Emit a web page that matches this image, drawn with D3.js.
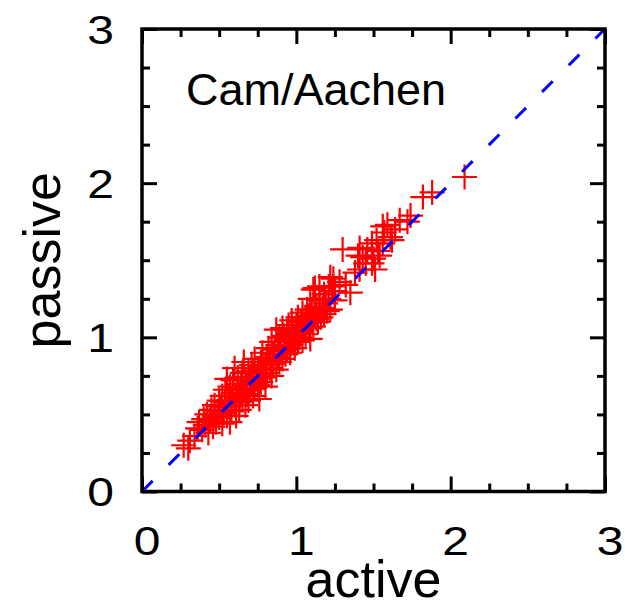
<!DOCTYPE html>
<html>
<head>
<meta charset="utf-8">
<script src="https://cdn.jsdelivr.net/npm/d3@7"></script>
<style>
  html, body { margin: 0; padding: 0; background: #fff; }
  svg { display: block; font-family: "Liberation Sans", Arial, sans-serif; }
</style>
</head>
<body>
<svg id="chart" width="625" height="606"></svg>
<script>
// ---- data ----
const active = [
  0.27,0.30,0.31,0.34,0.36,0.37,0.39,0.40,0.41,0.42,0.43,0.44,0.45,0.46,0.47,0.47,0.48,0.49,0.50,0.50,
  0.51,0.52,0.52,0.53,0.54,0.54,0.55,0.55,0.56,0.56,0.57,0.57,0.58,0.58,0.59,0.59,0.60,0.60,0.61,0.61,
  0.62,0.62,0.63,0.63,0.64,0.64,0.65,0.65,0.66,0.66,0.67,0.67,0.68,0.68,0.69,0.69,0.70,0.70,0.71,0.71,
  0.72,0.72,0.73,0.73,0.74,
  0.75,0.75,0.76,0.76,0.77,0.77,0.78,0.78,0.79,0.80,0.80,0.81,0.81,0.82,0.83,0.83,0.84,0.84,0.85,0.85,
  0.86,0.87,0.87,0.88,0.88,0.89,0.89,0.90,0.90,0.91,0.91,0.92,0.92,0.93,0.93,0.94,0.94,0.95,0.95,0.96,
  0.96,0.97,0.97,0.98,0.98,0.99,0.99,1.00,1.00,1.01,1.01,1.02,1.02,
  1.03,1.03,1.04,1.04,1.05,1.06,1.06,1.07,1.07,1.08,1.08,1.09,1.09,1.10,1.10,1.11,1.12,1.12,1.13,1.13,
  1.14,1.15,1.15,1.16,1.17,1.18,1.18,1.19,1.20,1.21,1.22,1.22,1.23,1.24,1.25,
  1.30,1.41,1.46,1.49,1.52,1.56,1.61,1.59,1.56,1.62,1.57,1.54,1.50,1.45,1.49,1.51,1.41,1.40,
  1.72,1.74,1.82,1.88,2.09,1.24,1.21,1.32,1.35,1.15,1.11,1.28,1.25,
  1.43,1.53,1.64,1.38,1.67
];
const passive = [
  0.30,0.28,0.33,0.36,0.41,0.45,0.40,0.47,0.43,0.50,0.38,0.46,0.53,0.42,0.49,0.56,0.45,0.52,0.59,0.48,
  0.55,0.62,0.44,0.51,0.58,0.66,0.49,0.73,0.55,0.62,0.45,0.68,0.52,0.59,0.64,0.72,0.56,0.80,0.49,0.61,
  0.67,0.74,0.58,0.53,0.63,0.70,0.77,0.60,0.66,0.84,0.56,0.72,0.63,0.69,0.78,0.59,0.66,0.74,0.82,0.70,
  0.62,0.77,0.67,0.86,0.73,
  0.80,0.69,0.60,0.76,0.84,0.71,0.79,0.90,0.74,0.82,0.68,0.87,0.77,0.93,0.80,0.85,0.75,0.97,0.89,0.83,
  0.92,0.79,1.05,0.87,0.95,0.84,1.00,0.91,0.97,0.86,1.06,0.94,1.01,0.89,0.97,1.04,0.92,0.99,1.08,0.90,
  0.95,1.02,1.11,0.97,1.05,0.93,1.00,1.08,1.03,0.97,1.13,1.06,1.00,
  1.10,1.04,1.16,0.98,1.08,1.13,1.02,1.18,1.10,1.06,1.14,1.25,0.99,1.11,1.18,1.07,1.15,1.32,1.12,1.20,
  1.10,1.17,1.24,1.13,1.19,1.15,1.28,1.22,1.17,1.25,1.18,1.39,1.30,1.33,1.24,
  1.57,1.58,1.57,1.61,1.63,1.61,1.65,1.73,1.72,1.63,1.68,1.53,1.51,1.48,1.48,1.44,1.44,1.53,
  1.75,1.79,1.91,1.94,2.04,1.38,1.33,1.34,1.29,1.33,1.31,1.36,1.30,
  1.52,1.56,1.70,1.42,1.76
];
const xTickLabels = [0, 1, 2, 3];
const yTickLabels = [0, 1, 2, 3];
const minorTicks = [0.25,0.5,0.75,1.25,1.5,1.75,2.25,2.5,2.75];
const diagonal = [[0, 0], [3, 3]];
const xTitle = "active";
const yTitle = "passive";
const panelLabel = "Cam/Aachen";

// ---- layout ----
const svg = d3.select("#chart");
const L = 142, R = 605, T = 29, B = 491.5;
const x = d3.scaleLinear().domain([0, 3]).range([L, R]);
const y = d3.scaleLinear().domain([0, 3]).range([B, T]);

const tickFont = 40, tickStretch = 1.2;
const majorLen = 15, minorLen = 8;

// clip
svg.append("defs").append("clipPath").attr("id", "clip")
  .append("rect").attr("x", L).attr("y", T).attr("width", R - L).attr("height", B - T);

// points
const pts = active.map((a, i) => ({ a, p: passive[i] }));
svg.append("g").attr("clip-path", "url(#clip)")
  .selectAll("path.pt").data(pts).join("path")
  .attr("class", "pt")
  .attr("transform", d => `translate(${x(d.a)},${y(d.p)})`)
  .attr("d", "M-12.5,0H12.5M0,-12.5V12.5")
  .attr("stroke", "#ff0000")
  .attr("stroke-width", 2.2)
  .attr("fill", "none");

// diagonal dashed line
svg.append("g").attr("clip-path", "url(#clip)")
  .append("path")
  .attr("d", d3.line().x(d => x(d[0])).y(d => y(d[1]))(diagonal))
  .attr("stroke", "#0000ff")
  .attr("stroke-width", 3)
  .attr("stroke-dasharray", "15,22.7")
  .attr("fill", "none");

// axes: ticks inward on all four sides
function styleAxis(g) {
  g.select(".domain").remove();
  g.selectAll(".tick line").attr("stroke", "#000").attr("stroke-width", 3);
}
// bottom
svg.append("g").attr("transform", `translate(0,${B})`)
  .call(d3.axisBottom(x).tickValues(minorTicks).tickSize(-minorLen).tickFormat(""))
  .call(styleAxis);
const gb = svg.append("g").attr("transform", `translate(0,${B})`)
  .call(d3.axisBottom(x).tickValues(xTickLabels).tickSize(-majorLen).tickFormat(d3.format("d")))
  .call(styleAxis);
gb.selectAll(".tick text")
  .attr("y", 63.5).attr("dy", 0).attr("x", 4.5 / tickStretch)
  .attr("transform", `scale(${tickStretch},1)`)
  .attr("font-size", tickFont).attr("fill", "#000")
  .attr("font-family", "Liberation Sans, Arial, sans-serif");
// top
svg.append("g").attr("transform", `translate(0,${T})`)
  .call(d3.axisTop(x).tickValues(minorTicks).tickSize(-minorLen).tickFormat(""))
  .call(styleAxis);
svg.append("g").attr("transform", `translate(0,${T})`)
  .call(d3.axisTop(x).tickValues(xTickLabels).tickSize(-majorLen).tickFormat(""))
  .call(styleAxis);
// left
svg.append("g").attr("transform", `translate(${L},0)`)
  .call(d3.axisLeft(y).tickValues(minorTicks).tickSize(-minorLen).tickFormat(""))
  .call(styleAxis);
const gl = svg.append("g").attr("transform", `translate(${L},0)`)
  .call(d3.axisLeft(y).tickValues(yTickLabels).tickSize(-majorLen).tickFormat(d3.format("d")))
  .call(styleAxis);
gl.selectAll(".tick text")
  .attr("x", -28 / tickStretch).attr("dy", 0).attr("y", 14)
  .attr("transform", `scale(${tickStretch},1)`)
  .attr("text-anchor", "end")
  .attr("font-size", tickFont).attr("fill", "#000")
  .attr("font-family", "Liberation Sans, Arial, sans-serif");
// right
svg.append("g").attr("transform", `translate(${R},0)`)
  .call(d3.axisRight(y).tickValues(minorTicks).tickSize(-minorLen).tickFormat(""))
  .call(styleAxis);
svg.append("g").attr("transform", `translate(${R},0)`)
  .call(d3.axisRight(y).tickValues(yTickLabels).tickSize(-majorLen).tickFormat(""))
  .call(styleAxis);

// frame
svg.append("rect")
  .attr("x", L).attr("y", T).attr("width", R - L).attr("height", B - T)
  .attr("fill", "none").attr("stroke", "#000").attr("stroke-width", 3.5);

// titles
svg.append("text")
  .attr("x", (L + R) / 2).attr("y", 597)
  .attr("text-anchor", "middle")
  .attr("font-size", 52).attr("fill", "#000")
  .text(xTitle);
svg.append("text")
  .attr("transform", `translate(60,${(T + B) / 2}) rotate(-90)`)
  .attr("text-anchor", "middle")
  .attr("font-size", 52).attr("fill", "#000")
  .text(yTitle);
svg.append("text")
  .attr("x", 186).attr("y", 105)
  .attr("font-size", 45).attr("fill", "#000")
  .text(panelLabel);
</script>
</body>
</html>
